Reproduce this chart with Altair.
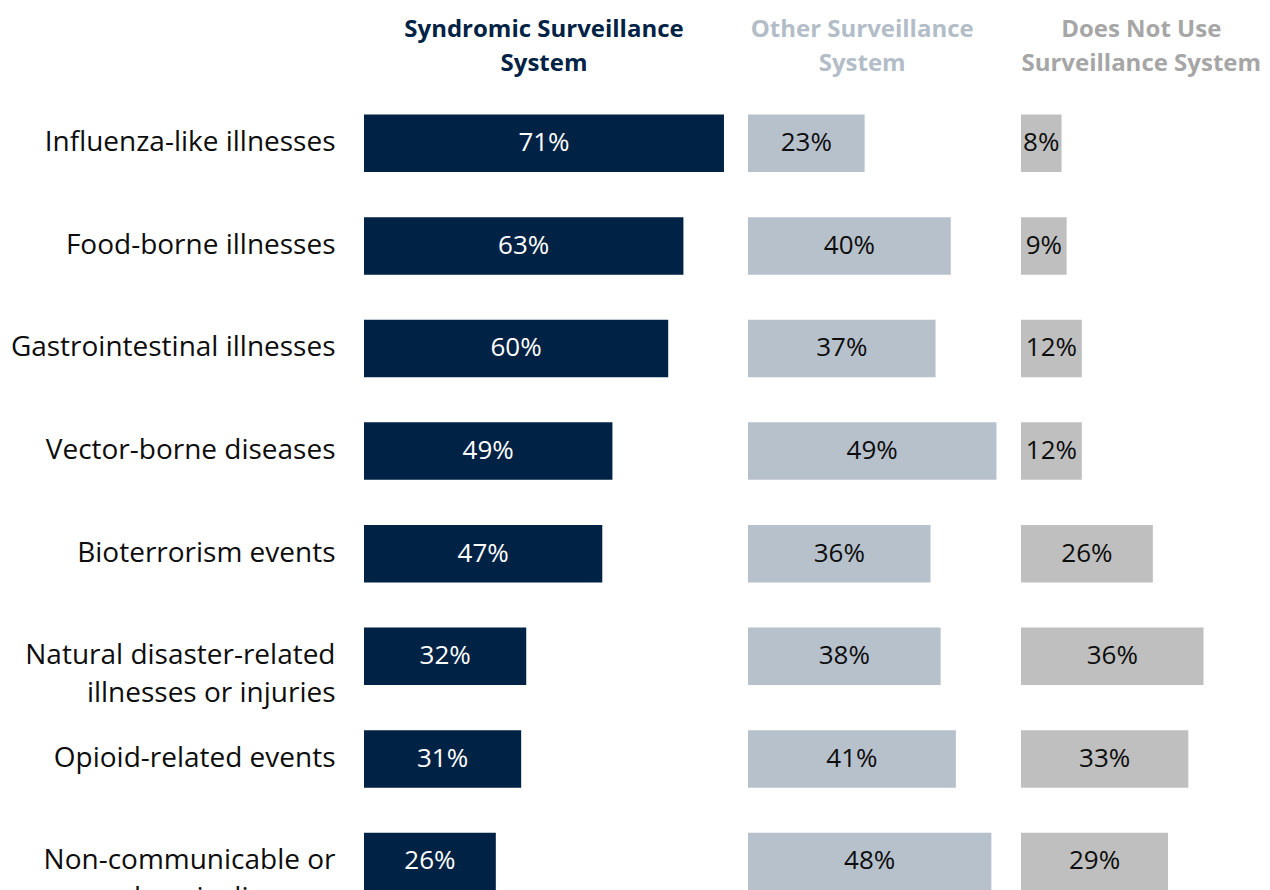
import altair as alt
import pandas as pd

categories = [
    "Influenza-like illnesses",
    "Food-borne illnesses",
    "Gastrointestinal illnesses",
    "Vector-borne diseases",
    "Bioterrorism events",
    "Natural disaster-related|illnesses or injuries",
    "Opioid-related events",
    "Non-communicable or|chronic diseases",
]
syndromic = [71, 63, 60, 49, 47, 32, 31, 26]
other = [23, 40, 37, 49, 36, 38, 41, 48]
not_use = [8, 9, 12, 12, 26, 36, 33, 29]

titles = [
    ["Syndromic Surveillance", "System"],
    ["Other Surveillance", "System"],
    ["Does Not Use", "Surveillance System"],
]

FONT = "Open Sans"
PX_PER_PCT = 5.07
ROW_STEP = 102.6


def panel(values, color, text_color, title, title_color, dmax, show_axis, dx):
    df = pd.DataFrame({
        "category": categories,
        "value": values,
        "label": [f"{v}%" for v in values],
    })
    if show_axis:
        axis = alt.Axis(
            title=None, ticks=False, domain=False, labelFontSize=28,
            labelFont=FONT, labelColor="#0d0d0d", labelPadding=29,
            labelExpr="split(datum.label, '|')", labelLineHeight=38,
            minExtent=351, maxExtent=351, labelLimit=400,
        )
    else:
        axis = None
    y = alt.Y("category:N", sort=categories,
              scale=alt.Scale(paddingInner=0.44, paddingOuter=0.22), axis=axis)
    xs = alt.Scale(domain=[0, dmax], nice=False, zero=True)
    base = alt.Chart(df)
    bars = base.mark_bar(color=color).encode(
        x=alt.X("value:Q", scale=xs, axis=None), y=y)
    text = base.transform_calculate(mid="datum.value / 2").mark_text(
        color=text_color, font=FONT, fontSize=26, baseline="middle", align="center"
    ).encode(x=alt.X("mid:Q", scale=xs, axis=None), y=y, text="label:N")
    return alt.layer(bars, text).properties(
        width=dmax * PX_PER_PCT,
        height=ROW_STEP * len(categories),
        title=alt.TitleParams(
            text=title, color=title_color, font=FONT, fontSize=24,
            fontWeight="bold", lineHeight=34, anchor="middle", dx=dx, offset=16,
        ),
    )


p1 = panel(syndromic, "#002245", "#ffffff", titles[0], "#002245", 71, True, 0)
p2 = panel(other, "#b7c1cc", "#0d0d0d", titles[1], "#b3bdc8", 49, False, -10)
p3 = panel(not_use, "#bfbfbf", "#0d0d0d", titles[2], "#a6a6a6", 36, False, 29)

chart = alt.hconcat(p1, p2, p3, spacing=24).configure_view(stroke=None).properties(
    padding={"left": 2, "top": 10, "right": 0, "bottom": 5}
)

chart.save("out.html", embed_options={"renderer": "svg", "actions": False})
